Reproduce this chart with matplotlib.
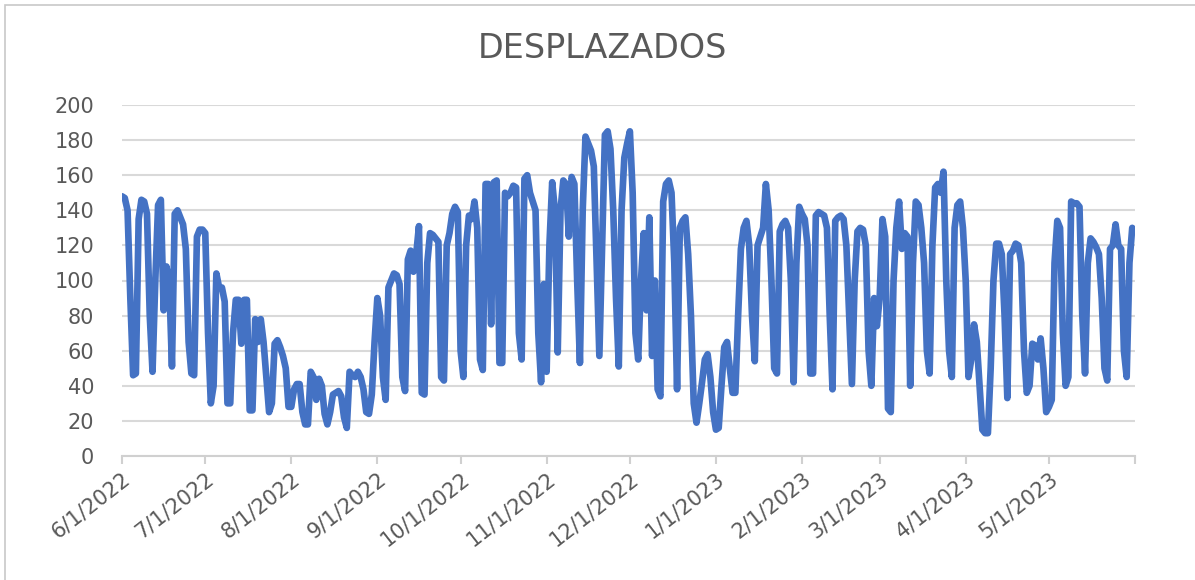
import pandas as pd
import matplotlib
matplotlib.use("Agg")
import matplotlib.pyplot as plt
import matplotlib.dates as mdates
from matplotlib.patches import Rectangle

# daily values, one list per month
jun22 = [148, 147, 140, 90, 46, 47, 135, 146, 145, 138,
         80, 48, 100, 143, 146, 83, 108, 100, 51, 138,
         140, 136, 132, 118, 65, 47, 46, 125, 129, 129]
jul22 = [127, 70, 30, 40, 104, 96, 96, 88, 30, 30,
         70, 89, 89, 64, 89, 89, 26, 26, 78, 65,
         78, 65, 45, 25, 30, 64, 66, 62, 57, 50, 28]
aug22 = [28, 38, 41, 41, 25, 18, 18, 48, 45, 32,
         44, 40, 24, 18, 25, 35, 36, 37, 34, 22,
         16, 48, 46, 45, 48, 45, 38, 25, 24, 35, 65]
sep22 = [90, 80, 45, 32, 96, 100, 104, 103, 98, 45,
         37, 112, 117, 105, 115, 131, 36, 35, 110, 127,
         126, 124, 122, 45, 43, 120, 127, 138, 142, 139]
oct22 = [60, 45, 120, 137, 135, 145, 130, 55, 49, 155,
         155, 75, 156, 157, 53, 53, 150, 148, 150, 154,
         153, 70, 55, 158, 160, 150, 145, 140, 70, 42, 98]
nov22 = [48, 120, 156, 140, 59, 140, 157, 155, 125, 159,
         155, 100, 53, 140, 182, 178, 174, 165, 110, 57,
         120, 183, 185, 175, 140, 90, 51, 140, 170, 178]
dec22 = [185, 150, 70, 55, 100, 127, 83, 136, 57, 100,
         38, 34, 145, 155, 157, 150, 110, 38, 130, 134,
         136, 115, 80, 30, 19, 30, 42, 55, 58, 45, 25]
jan23 = [15, 16, 40, 62, 65, 50, 36, 36, 80, 118,
         130, 134, 120, 80, 54, 120, 125, 130, 155, 140,
         100, 50, 47, 128, 132, 134, 130, 100, 42, 110, 142]
feb23 = [138, 135, 120, 47, 47, 137, 139, 138, 137, 130,
         80, 38, 134, 136, 137, 135, 120, 80, 41, 100,
         128, 130, 129, 120, 60, 40, 90, 74]
mar23 = [90, 135, 125, 27, 25, 100, 130, 145, 118, 127,
         125, 40, 110, 145, 143, 130, 110, 60, 47, 120,
         153, 155, 150, 162, 100, 60, 45, 130, 143, 145, 130]
apr23 = [100, 45, 55, 75, 65, 40, 15, 13, 13, 50,
         100, 121, 121, 115, 80, 33, 115, 117, 121, 120,
         110, 60, 36, 40, 64, 63, 55, 67, 50, 25]
may23 = [28, 32, 110, 134, 130, 70, 40, 45, 145, 144,
         144, 142, 80, 47, 110, 124, 122, 119, 115, 90,
         50, 43, 118, 120, 132, 120, 118, 60, 45, 110, 130]

values = jun22 + jul22 + aug22 + sep22 + oct22 + nov22 + dec22 + jan23 + feb23 + mar23 + apr23 + may23
dates = pd.date_range('2022-06-01', periods=len(values), freq='D')
data = pd.Series(values, index=dates)

title = 'DESPLAZADOS'
yticks = [0, 20, 40, 60, 80, 100, 120, 140, 160, 180, 200]
month_ticks = pd.date_range('2022-06-01', '2023-05-01', freq='MS')

blue = '#4472C4'
grey_txt = '#595959'
grey_line = '#D9D9D9'

fig = plt.figure(figsize=(11.95, 5.8), dpi=100)
ax = fig.add_axes([122/1195, 1-456/580, (1135-122)/1195, (456-105)/580])

ax.plot(data.index, data.values, color=blue, linewidth=4.8,
        solid_joinstyle='round', solid_capstyle='round', zorder=3)

ax.set_xlim(pd.Timestamp('2022-06-01'), pd.Timestamp('2023-06-01'))
ax.set_ylim(0, 200)
ax.set_yticks(yticks)
ax.yaxis.grid(True, color=grey_line, linewidth=1.5)
ax.set_axisbelow(True)

ax.set_xticks(month_ticks)
ax.set_xticks([pd.Timestamp('2023-06-01')], minor=True)
ax.xaxis.set_major_formatter(mdates.DateFormatter('%-m/%-d/%Y'))

for s in ['top', 'right', 'left']:
    ax.spines[s].set_visible(False)
ax.spines['bottom'].set_color('#D0D0D0')
ax.spines['bottom'].set_linewidth(1.5)

ax.tick_params(axis='y', length=0, pad=20, labelsize=15, labelcolor=grey_txt)
ax.tick_params(axis='x', which='both', length=6, width=1.5, color='#D0D0D0',
               direction='out', labelsize=15, labelcolor=grey_txt, pad=3)
for lab in ax.get_xticklabels():
    lab.set_rotation(38)
    lab.set_ha('right')
    lab.set_va('top')
    lab.set_rotation_mode('anchor')

fig.text(602/1195, 1-48/580, title, ha='center', va='center',
         fontsize=24, color=grey_txt)

# chart border (left/top visible in the screenshot)
fig.patches.append(Rectangle((5/1195, -0.05), 1.1, 1-5/580+0.05,
                             transform=fig.transFigure, fill=False,
                             edgecolor='#C8C8C8', linewidth=1.2))

fig.savefig('out.png', dpi=100, facecolor='white')
